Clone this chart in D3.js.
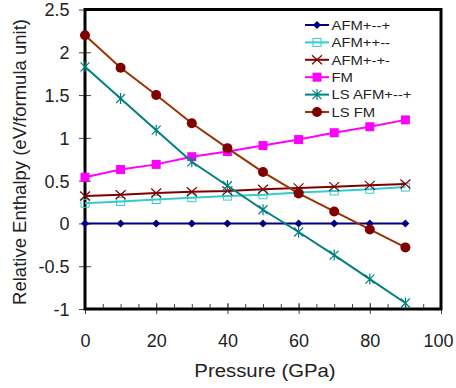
<!DOCTYPE html>
<html lang="en">
<head>
<meta charset="UTF-8">
<title>Relative Enthalpy vs Pressure</title>
<script src="https://d3js.org/d3.v7.min.js"></script>
<style>
    body { margin: 0; background: #fff; }
    svg { display: block; font-family: 'Liberation Sans', Arial, sans-serif; }
    .tick-label { font-size: 18px; fill: #222; }
    .axis-title { font-size: 18.5px; fill: #222; text-anchor: middle; }
    .legend text { font-size: 13.5px; fill: #222; }
</style>
</head>
<body>
<svg width="456" height="388"></svg>
<script>
const pressure = [0, 10, 20, 30, 40, 50, 60, 70, 80, 90];
const afmA = [0, 0, 0, 0, 0, 0, 0, 0, 0, 0];                                  // AFM+--+
const afmB = [0.235, 0.257, 0.28, 0.30, 0.32, 0.335, 0.36, 0.38, 0.40, 0.425]; // AFM++--
const afmC = [0.32, 0.335, 0.355, 0.37, 0.38, 0.40, 0.415, 0.43, 0.445, 0.46]; // AFM+-+-
const fm = [0.54, 0.63, 0.69, 0.78, 0.84, 0.91, 0.98, 1.06, 1.13, 1.21];
const lsAfm = [1.83, 1.46, 1.09, 0.72, 0.44, 0.16, -0.1, -0.37, -0.65, -0.93];
const lsFm = [2.2, 1.82, 1.50, 1.17, 0.88, 0.60, 0.35, 0.14, -0.07, -0.28];
const xTicks = [0, 20, 40, 60, 80, 100];
const yTicks = [-1, -0.5, 0, 0.5, 1, 1.5, 2, 2.5];

const series = [
    { name: 'AFM+--+', values: afmA, line: '#000080', mark: '#000080', shape: 'diamond' },
    { name: 'AFM++--', values: afmB, line: '#33CCCC', mark: '#33CCCC', shape: 'opensquare' },
    { name: 'AFM+-+-', values: afmC, line: '#800000', mark: '#800000', shape: 'x' },
    { name: 'FM', values: fm, line: '#FF00FF', mark: '#FF00FF', shape: 'square' },
    { name: 'LS AFM+--+', values: lsAfm, line: '#008080', mark: '#008080', shape: 'star' },
    { name: 'LS FM', values: lsFm, line: '#993300', mark: '#800000', shape: 'circle' }
];

const svg = d3.select('svg');
const margin = { left: 85, right: 15, top: 9.5, bottom: 79 };
const width = 456, height = 388;
const sx = 1.1; // text in the source is slightly wider than the font

const x = d3.scaleLinear().domain([0, 100]).range([margin.left, width - margin.right]);
const y = d3.scaleLinear().domain([-1, 2.5]).range([height - margin.bottom, margin.top]);

// Y axis ticks (cross the axis)
svg.append('g')
    .attr('transform', `translate(${margin.left},0)`)
    .call(d3.axisLeft(y).tickValues(yTicks).tickSizeInner(-6).tickSizeOuter(0)
        .tickFormat(d => String(d)))
    .call(g => g.select('.domain').remove())
    .call(g => g.selectAll('.tick line').attr('stroke', '#444').attr('x1', -6).attr('x2', 6))
    .call(g => g.selectAll('.tick text').attr('class', 'tick-label')
        .attr('x', -15.5).attr('dy', '0.36em'));

// X axis minor ticks every 5
svg.append('g')
    .attr('transform', `translate(0,${y(-1)})`)
    .call(d3.axisBottom(x).tickValues(d3.range(0, 101, 5)).tickSize(-5).tickFormat(''))
    .call(g => g.select('.domain').remove())
    .call(g => g.selectAll('.tick line').attr('stroke', '#444'));

// X axis major ticks + labels
svg.append('g')
    .attr('transform', `translate(0,${y(-1)})`)
    .call(d3.axisBottom(x).tickValues(xTicks).tickSize(5))
    .call(g => g.select('.domain').remove())
    .call(g => g.selectAll('.tick line').attr('stroke', '#444').attr('y1', -6))
    .call(g => g.selectAll('.tick text').attr('class', 'tick-label')
        .attr('y', 38).attr('dy', 0)
        .attr('x', d => d === 100 ? -3 : 0));

// Frame
svg.append('rect')
    .attr('x', x(0)).attr('y', y(2.5))
    .attr('width', x(100) - x(0)).attr('height', y(-1) - y(2.5))
    .attr('fill', 'none').attr('stroke', '#000').attr('stroke-width', 3);

// Titles
svg.append('text').attr('class', 'axis-title')
    .attr('transform', `translate(265,377) scale(${sx},1)`)
    .text('Pressure (GPa)');
svg.append('text').attr('class', 'axis-title')
    .attr('transform', `translate(25.5,162) rotate(-90)`)
    .text('Relative Enthalpy (eV/formula unit)');

function drawMarker(g, shape, color, cx, cy) {
    if (shape === 'diamond') {
        g.append('path').attr('d', `M${cx},${cy - 4}L${cx + 4},${cy}L${cx},${cy + 4}L${cx - 4},${cy}Z`).attr('fill', color);
    } else if (shape === 'opensquare') {
        g.append('rect').attr('x', cx - 4).attr('y', cy - 4).attr('width', 8).attr('height', 8)
            .attr('fill', 'none').attr('stroke', color).attr('stroke-width', 1);
    } else if (shape === 'square') {
        g.append('rect').attr('x', cx - 4.5).attr('y', cy - 4.5).attr('width', 9).attr('height', 9).attr('fill', color);
    } else if (shape === 'circle') {
        g.append('circle').attr('cx', cx).attr('cy', cy).attr('r', 5).attr('fill', color);
    } else if (shape === 'x') {
        g.append('path').attr('d', `M${cx - 5},${cy - 4.5}L${cx + 5},${cy + 4.5}M${cx - 5},${cy + 4.5}L${cx + 5},${cy - 4.5}`)
            .attr('stroke', color).attr('stroke-width', 1.2);
    } else if (shape === 'star') {
        g.append('path').attr('d', `M${cx - 4.5},${cy - 4.5}L${cx + 4.5},${cy + 4.5}M${cx - 4.5},${cy + 4.5}L${cx + 4.5},${cy - 4.5}M${cx},${cy - 5.5}L${cx},${cy + 5.5}`)
            .attr('stroke', color).attr('stroke-width', 1.2);
    }
}

const line = d3.line().x((d, i) => x(pressure[i])).y(d => y(d));
const plot = svg.append('g');
series.forEach(s => {
    plot.append('path').datum(s.values).attr('d', line)
        .attr('fill', 'none').attr('stroke', s.line).attr('stroke-width', 2);
    const mg = plot.append('g');
    s.values.forEach((v, i) => drawMarker(mg, s.shape, s.mark, x(pressure[i]), y(v)));
});

// Legend
const legend = svg.append('g').attr('class', 'legend');
series.forEach((s, i) => {
    const ly = 25 + i * 17.4;
    legend.append('line').attr('x1', 305).attr('x2', 329).attr('y1', ly).attr('y2', ly)
        .attr('stroke', s.line).attr('stroke-width', 2);
    drawMarker(legend, s.shape, s.mark, 317, ly);
    legend.append('text').attr('transform', `translate(331.5,${ly}) scale(${sx},1)`)
        .attr('dy', '0.35em').text(s.name);
});
</script>
</body>
</html>
